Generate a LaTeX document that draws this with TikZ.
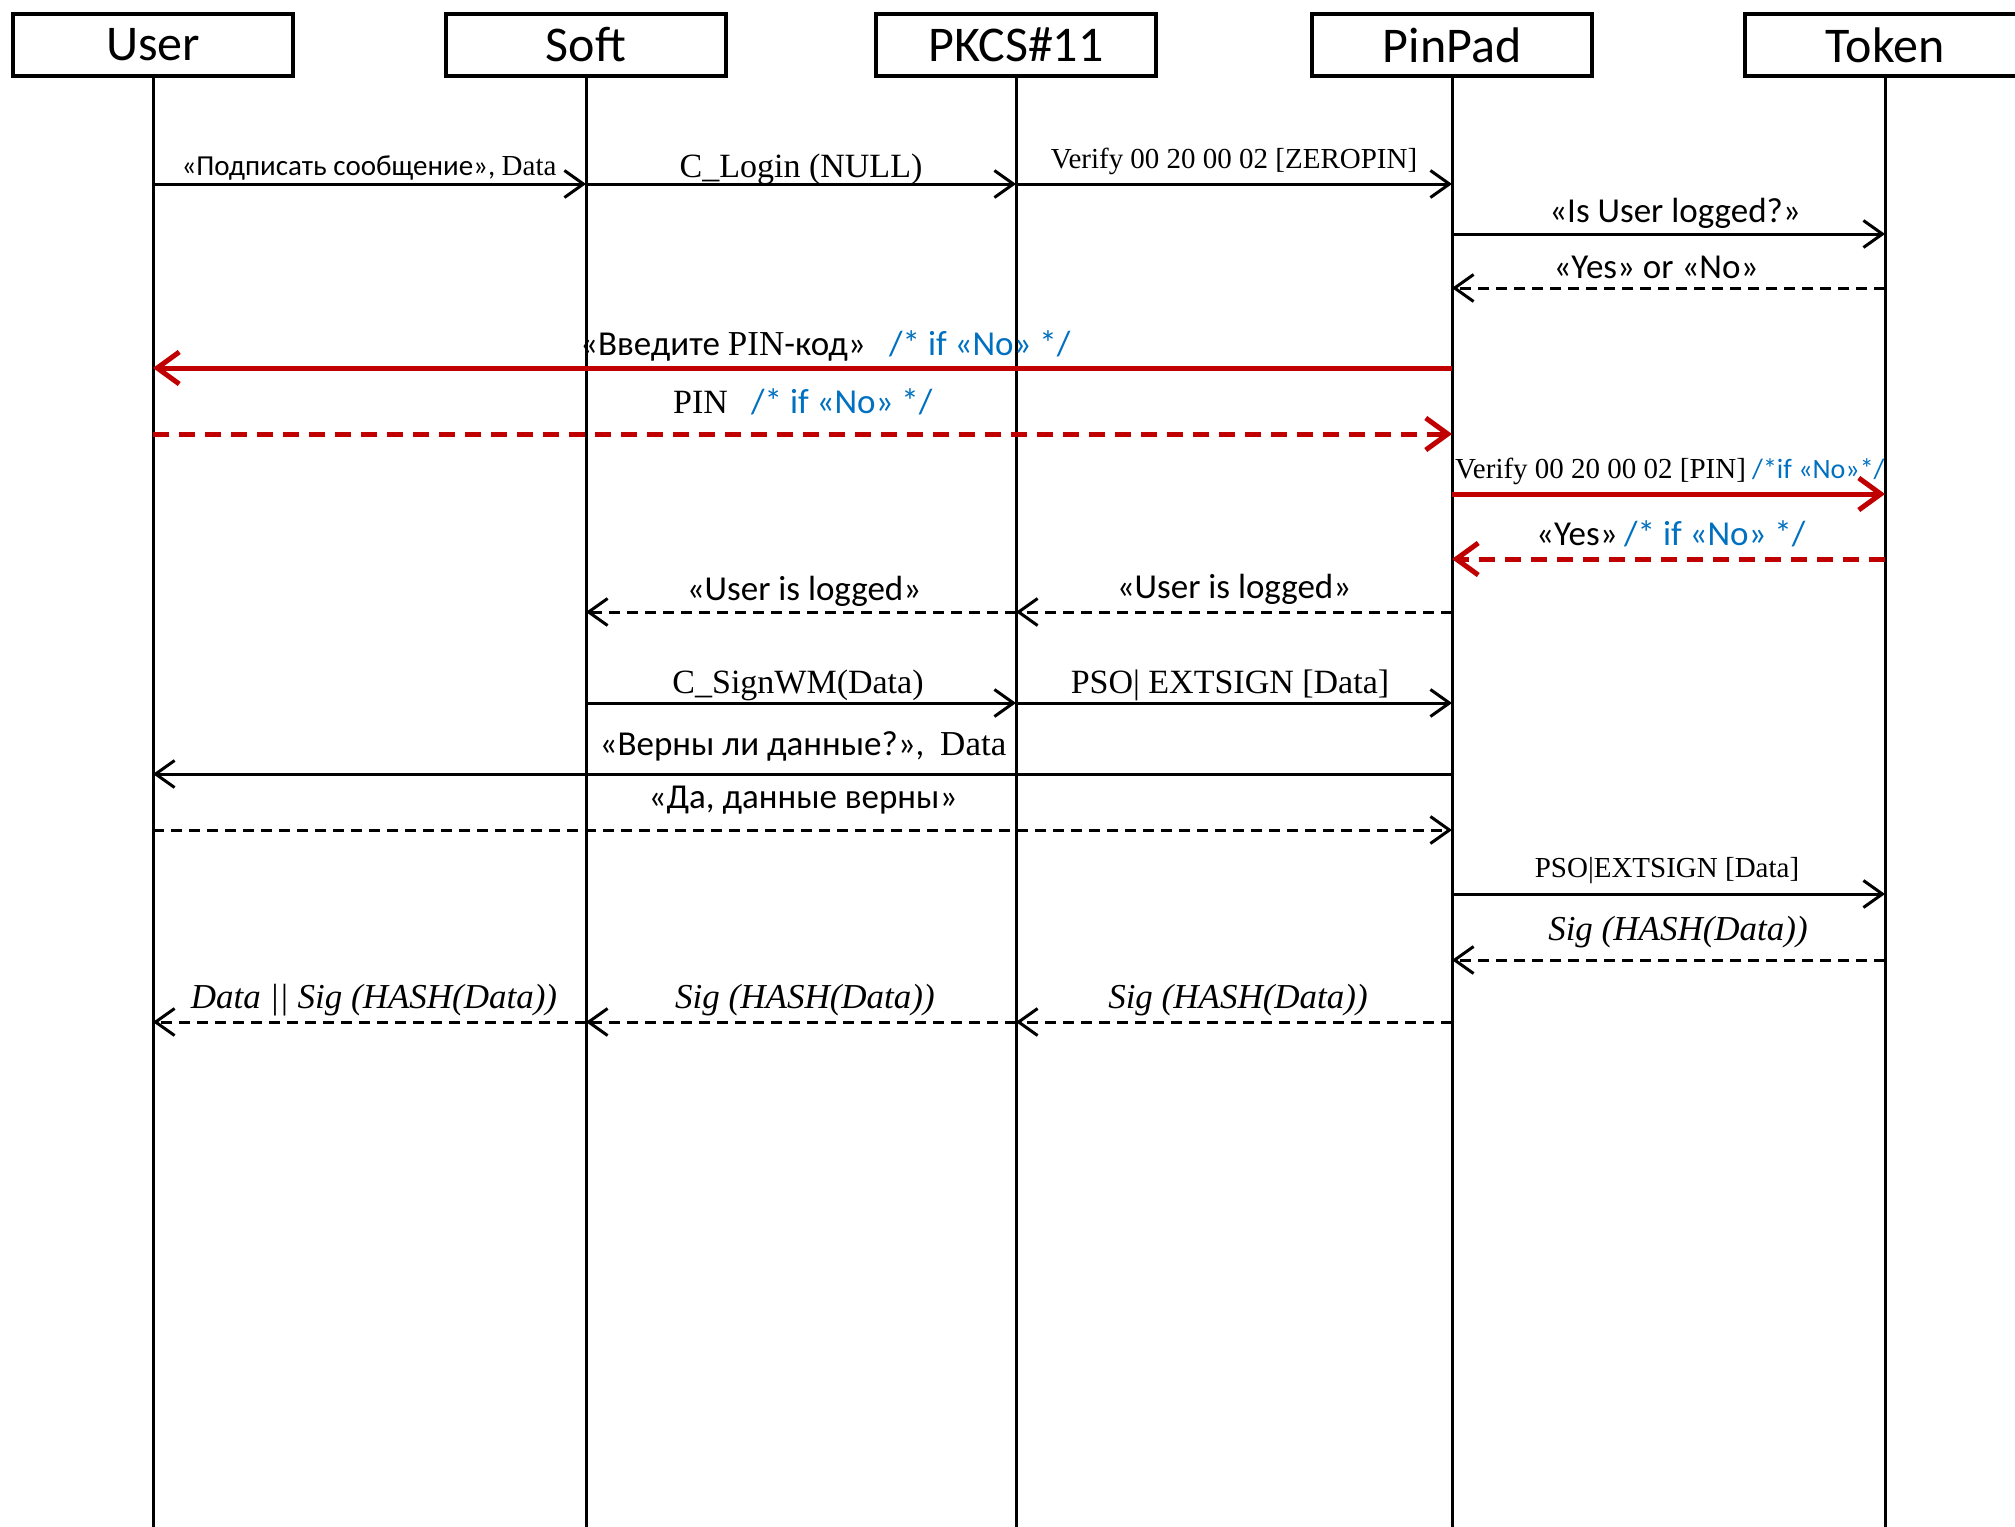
\documentclass[tikz,border=0pt]{standalone}
\usepackage{fontspec}
\setmainfont{Carlito}
\newfontfamily\srf{Liberation Serif}
\usetikzlibrary{arrows.meta}
\definecolor{dred}{HTML}{C00000}
\definecolor{cblue}{HTML}{0070C0}
\begin{document}
\begin{tikzpicture}[x=1pt,y=-1pt,
  hdr/.style={draw, line width=4.5pt, minimum width=280pt, minimum height=62pt, inner sep=0pt, font=\fontsize{50}{60}\selectfont},
  life/.style={line width=3pt},
  msg/.style={line width=3pt, -{Straight Barb[length=19pt,width=27pt,line width=3pt]}},
  ret/.style={msg, dash pattern=on 11pt off 7pt},
  rmsg/.style={line width=5pt, dred, -{Straight Barb[length=22pt,width=32pt,line width=5pt]}},
  rret/.style={rmsg, dash pattern=on 16pt off 10pt},
  lbl/.style={anchor=base, inner sep=0pt, font=\fontsize{35}{40}\selectfont},
  lbls/.style={anchor=base, inner sep=0pt, font=\fontsize{29}{34}\selectfont},
  slbl/.style={anchor=base, inner sep=0pt, font=\fontsize{34}{40}\srf},
  slbls/.style={anchor=base, inner sep=0pt, font=\fontsize{29}{34}\srf},
  ilbl/.style={anchor=base, inner sep=0pt, font=\fontsize{35}{40}\srf\itshape},
  note/.style={anchor=base west, inner sep=0pt, text=cblue, font=\fontsize{35}{40}\selectfont},
  notes/.style={anchor=base west, inner sep=0pt, text=cblue, font=\fontsize{28}{34}\selectfont}
]
\path[use as bounding box, clip] (0,0) rectangle (2015,1526);
\fill[white] (0,0) rectangle (2015,1526);

% header boxes
\node[hdr] (User)   at (153,45)  {User};
\node[hdr] (Soft)   at (586,45)  {Soft};
\node[hdr] (PKCS)   at (1016,45) {PKCS\#11};
\node[hdr] (PinPad) at (1452,45) {PinPad};
\node[hdr] (Token)  at (1885,45) {Token};

% lifelines
\foreach \n in {User,Soft,PKCS,PinPad,Token}
  \draw[life] (\n.south) -- (\n.south |- 0,1530);

% 1-3
\draw[msg] (User.south |- 0,184) -- (Soft.south |- 0,184);
\node[lbls] (l1) at (369,175) {«Подписать сообщение», {\srf Data}};
\draw[msg] (Soft.south |- 0,184) -- (PKCS.south |- 0,184);
\node[slbl] (l2) at (801,177) {C\_Login (NULL)};
\draw[msg] (PKCS.south |- 0,184) -- (PinPad.south |- 0,184);
\node[slbls] (l3) at (1234,168) {Verify 00 20 00 02 [ZEROPIN]};

% 4-5
\draw[msg] (PinPad.south |- 0,234) -- (Token.south |- 0,234);
\node[lbl] (l4) at (1675,222) {«Is User logged?»};
\draw[ret] (Token.south |- 0,288) -- (PinPad.south |- 0,288);
\node[lbl] (l5) at (1656,278) {«Yes» or «No»};

% 6
\draw[rmsg] (PinPad.south |- 0,368) -- (User.south |- 0,368);
\node[lbl, anchor=base west] (l6) at (580,355) {«Введите {\srf PIN}-код»};
\node[note] (n6) at (889,355) {/* if «No» */};

% 7
\draw[rret] (User.south |- 0,434) -- (PinPad.south |- 0,434);
\node[slbl, anchor=base west] (l7) at (673,413) {PIN};
\node[note] (n7) at (751,413) {/* if «No» */};

% 8
\draw[rmsg] (PinPad.south |- 0,494) -- (Token.south |- 0,494);
\node[slbls, anchor=base west] (l8) at (1455,478) {Verify 00 20 00 02 [PIN]};
\node[notes] (n8) at (1752,478) {/*if «No»*/};

% 9
\draw[rret] (Token.south |- 0,559) -- (PinPad.south |- 0,559);
\node[lbl, anchor=base west] (l9) at (1536,545) {«Yes»};
\node[note] (n9) at (1624,545) {/* if «No» */};

% 10-11
\draw[ret] (PinPad.south |- 0,612) -- (PKCS.south |- 0,612);
\node[lbl] (l10) at (1234,598) {«User is logged»};
\draw[ret] (PKCS.south |- 0,612) -- (Soft.south |- 0,612);
\node[lbl] (l11) at (804,600) {«User is logged»};

% 12-13
\draw[msg] (Soft.south |- 0,703) -- (PKCS.south |- 0,703);
\node[slbl] (l12) at (798,693) {C\_SignWM(Data)};
\draw[msg] (PKCS.south |- 0,703) -- (PinPad.south |- 0,703);
\node[slbl] (l13) at (1230,693) {PSO| EXTSIGN [Data]};

% 14-15
\draw[msg] (PinPad.south |- 0,774) -- (User.south |- 0,774);
\node[lbl] (l14) at (803,755) {«Верны ли данные?»,\ \ {\srf Data}};
\draw[ret] (User.south |- 0,830) -- (PinPad.south |- 0,830);
\node[lbl] (l15) at (803,808) {«Да, данные верны»};

% 16-17
\draw[msg] (PinPad.south |- 0,894) -- (Token.south |- 0,894);
\node[slbls] (l16) at (1667,877) {PSO|EXTSIGN [Data]};
\draw[ret] (Token.south |- 0,960) -- (PinPad.south |- 0,960);
\node[ilbl] (l17) at (1678,940) {Sig (HASH(Data))};

% 18-20
\draw[ret] (PinPad.south |- 0,1022) -- (PKCS.south |- 0,1022);
\node[ilbl] (l18) at (1238,1008) {Sig (HASH(Data))};
\draw[ret] (PKCS.south |- 0,1022) -- (Soft.south |- 0,1022);
\node[ilbl] (l19) at (805,1008) {Sig (HASH(Data))};
\draw[ret] (Soft.south |- 0,1022) -- (User.south |- 0,1022);
\node[ilbl] (l20) at (374,1008) {Data || Sig (HASH(Data))};
\end{tikzpicture}
\end{document}
